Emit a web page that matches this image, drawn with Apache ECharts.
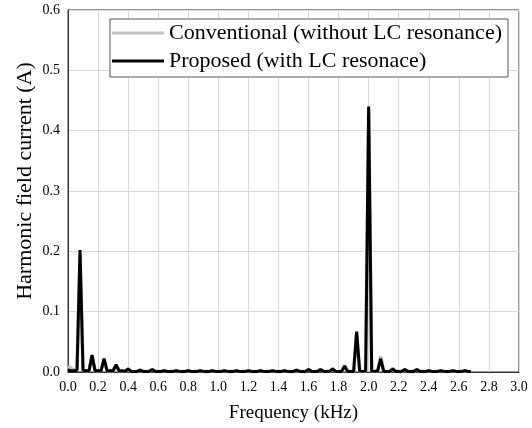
<!DOCTYPE html>
<html>
<head>
<meta charset="utf-8">
<script src="https://cdn.jsdelivr.net/npm/echarts@6/dist/echarts.min.js"></script>
<style>html,body{margin:0;padding:0;background:#fff}#c{width:532px;height:428px}</style>
</head>
<body>
<div id="c"></div>
<script>
var freq = [0.00,0.02,0.04,0.06,0.08,0.10,0.12,0.14,0.16,0.18,0.20,0.22,0.24,0.26,0.28,0.30,0.32,0.34,0.36,0.38,
0.40,0.42,0.44,0.46,0.48,0.50,0.52,0.54,0.56,0.58,0.60,0.62,0.64,0.66,0.68,0.70,0.72,0.74,0.76,0.78,
0.80,0.82,0.84,0.86,0.88,0.90,0.92,0.94,0.96,0.98,1.00,1.02,1.04,1.06,1.08,1.10,1.12,1.14,1.16,1.18,
1.20,1.22,1.24,1.26,1.28,1.30,1.32,1.34,1.36,1.38,1.40,1.42,1.44,1.46,1.48,1.50,1.52,1.54,1.56,1.58,
1.60,1.62,1.64,1.66,1.68,1.70,1.72,1.74,1.76,1.78,1.80,1.82,1.84,1.86,1.88,1.90,1.92,1.94,1.96,1.98,
2.00,2.02,2.04,2.06,2.08,2.10,2.12,2.14,2.16,2.18,2.20,2.22,2.24,2.26,2.28,2.30,2.32,2.34,2.36,2.38,
2.40,2.42,2.44,2.46,2.48,2.50,2.52,2.54,2.56,2.58,2.60,2.62,2.64,2.66,2.68];

var proposed = [0.003,0.002,0.002,0.003,0.202,0.003,0.002,0.002,0.028,0.002,0.002,0.002,0.022,0.002,0.002,0.002,0.012,0.002,0.002,0.001,
0.005,0.001,0.001,0.001,0.003,0.001,0.001,0.001,0.004,0.001,0.001,0.001,0.002,0.001,0.001,0.001,0.002,0.001,0.001,0.001,
0.002,0.001,0.001,0.001,0.002,0.001,0.001,0.001,0.002,0.001,0.001,0.001,0.002,0.001,0.001,0.001,0.002,0.001,0.001,0.001,
0.002,0.001,0.001,0.001,0.002,0.001,0.001,0.001,0.002,0.001,0.001,0.001,0.002,0.001,0.001,0.001,0.003,0.001,0.001,0.001,
0.004,0.001,0.001,0.001,0.004,0.001,0.001,0.001,0.005,0.001,0.001,0.001,0.010,0.001,0.001,0.001,0.067,0.002,0.001,0.002,
0.440,0.002,0.001,0.002,0.022,0.001,0.001,0.001,0.005,0.001,0.001,0.001,0.004,0.001,0.001,0.001,0.004,0.001,0.001,0.001,
0.002,0.001,0.001,0.001,0.002,0.001,0.001,0.001,0.002,0.001,0.001,0.001,0.002,0.001,0.001];

var conventional = [0.010,0.006,0.003,0.003,0.198,0.003,0.002,0.002,0.027,0.002,0.002,0.002,0.021,0.002,0.002,0.002,0.011,0.002,0.002,0.001,
0.005,0.001,0.001,0.001,0.003,0.001,0.001,0.001,0.004,0.001,0.001,0.001,0.002,0.001,0.001,0.001,0.002,0.001,0.001,0.001,
0.002,0.001,0.001,0.001,0.002,0.001,0.001,0.001,0.002,0.001,0.001,0.001,0.002,0.001,0.001,0.001,0.002,0.001,0.001,0.001,
0.002,0.001,0.001,0.001,0.002,0.001,0.001,0.001,0.002,0.001,0.001,0.001,0.002,0.001,0.001,0.001,0.003,0.001,0.001,0.001,
0.004,0.001,0.001,0.001,0.004,0.001,0.001,0.001,0.005,0.001,0.001,0.001,0.010,0.001,0.001,0.001,0.066,0.002,0.001,0.002,
0.436,0.002,0.001,0.002,0.026,0.001,0.001,0.001,0.005,0.001,0.001,0.001,0.004,0.001,0.001,0.001,0.004,0.001,0.001,0.001,
0.002,0.001,0.001,0.001,0.002,0.001,0.001,0.001,0.002,0.001,0.001,0.001,0.002,0.001,0.001];

var seriesNames = ['Conventional (without LC resonance)', 'Proposed (with LC resonace)'];
var xTicks = {min: 0, max: 3.0, interval: 0.2};
var yTicks = {min: 0, max: 0.6, interval: 0.1};

function pairs(xs, ys){ return xs.map(function(x,i){ return [x, ys[i]]; }); }

var font = 'Liberation Serif, Times New Roman, serif';
var chart = echarts.init(document.getElementById('c'), null, {renderer:'canvas'});
chart.setOption({
  animation: false,
  backgroundColor: '#fff',
  grid: {left: 68, right: 13, top: 10, bottom: 55, show: true, borderColor: '#333', borderWidth: 1, backgroundColor: 'transparent'},
  legend: {
    orient: 'vertical', left: 110, top: 19,
    data: seriesNames,
    icon: 'rect',
    backgroundColor: '#fff', borderColor: '#555', borderWidth: 1,
    padding: [3, 6, 5, 2], itemGap: 6, itemWidth: 52, itemHeight: 3,
    textStyle: {fontFamily: font, fontSize: 22, color: '#000', lineHeight: 22}
  },
  xAxis: {
    type: 'value', min: xTicks.min, max: xTicks.max, interval: xTicks.interval,
    name: 'Frequency (kHz)', nameLocation: 'middle', nameGap: 32,
    nameTextStyle: {fontFamily: font, fontSize: 19, color: '#000'},
    axisLine: {show: true, onZero: false, lineStyle: {color: '#333', width: 1}},
    axisTick: {show: false},
    axisLabel: {fontFamily: font, fontSize: 14, color: '#000', margin: 8, formatter: function(v){return v.toFixed(1);}},
    splitLine: {show: true, lineStyle: {color: '#d9d9d9', width: 1}}
  },
  yAxis: {
    type: 'value', min: yTicks.min, max: yTicks.max, interval: yTicks.interval,
    name: 'Harmonic field current (A)', nameLocation: 'middle', nameGap: 32, nameMoveOverlap: false,
    nameTextStyle: {fontFamily: font, fontSize: 22, color: '#000', padding: [0, 0, 0, 20]},
    axisLine: {show: true, lineStyle: {color: '#333', width: 1}},
    axisTick: {show: false},
    axisLabel: {fontFamily: font, fontSize: 14, color: '#000', margin: 8, formatter: function(v){return v.toFixed(1);}},
    splitLine: {show: true, lineStyle: {color: '#d9d9d9', width: 1}}
  },
  series: [
    {name: seriesNames[0], type: 'line', data: pairs(freq, conventional), symbol: 'none',
     lineStyle: {color: '#bfbfbf', width: 3.5}, itemStyle: {color: '#bfbfbf'}},
    {name: seriesNames[1], type: 'line', data: pairs(freq, proposed), symbol: 'none',
     lineStyle: {color: '#000', width: 3}, itemStyle: {color: '#000'}}
  ]
});
</script>
</body>
</html>
